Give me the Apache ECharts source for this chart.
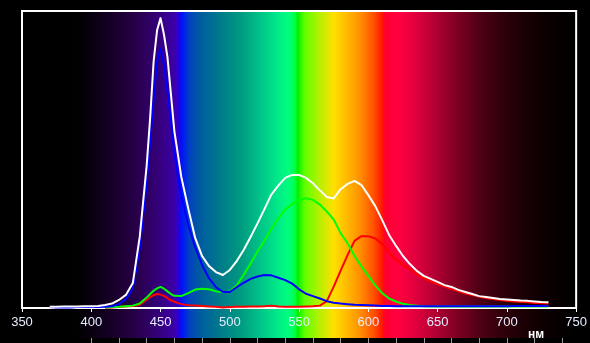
<!DOCTYPE html>
<html>
<head>
<meta charset="utf-8">
<style>
  html, body { margin: 0; padding: 0; background: #000; }
  #chart { width: 590px; height: 343px; }
</style>
<script src="https://cdn.jsdelivr.net/npm/echarts@6/dist/echarts.min.js"></script>
</head>
<body>
<div id="chart"></div>
<script>
// Wavelengths (nm)
const wavelengths = [370,375,380,385,390,395,400,405,410,415,420,425,430,435,440,442.5,445,447.5,450,452.5,455,457.5,460,465,470,475,480,485,490,495,500,505,510,515,520,525,530,535,540,545,550,555,560,565,570,575,580,585,590,595,600,605,610,615,620,625,630,635,640,645,650,655,660,665,670,675,680,685,690,695,700,705,710,715,720,725,730];
// wavelengths for green and red channels (start at 410 nm)
const wavelengthsRG = wavelengths.slice(8);

const whiteValues = [0.4,0.4,0.5,0.5,0.5,0.6,0.6,0.7,1.0,1.5,2.7,4.4,8.4,24,48,64,83,93.5,97.6,92,84.5,72,59.5,44.1,33.5,23.6,17.5,14.1,12.1,11.1,12.8,15.8,19.5,23.9,28.5,33.3,38.2,41.2,43.8,44.8,44.8,43.8,42.0,39.6,37.4,36.9,40.0,41.8,42.8,41.4,38.0,34.3,29.6,24.6,20.9,17.5,14.8,12.5,10.8,9.8,8.8,7.7,7.1,6.1,5.4,4.7,4.0,3.7,3.4,3.0,2.9,2.7,2.5,2.4,2.2,2.0,1.9];
const blueValues = [0.3,0.2,0.2,0.2,0.3,0.3,0.3,0.3,0.4,0.6,1.3,3.0,6.5,20,42,56,70,83,87.4,82,73,63,52,38,28,20.5,14.5,10,7,5.4,5.4,7,8.5,9.8,10.6,11.1,11,10.2,9.4,8.2,6.3,4.8,4,3.2,2.3,1.8,1.5,1.3,1.1,1.0,0.9,0.8,0.7,0.7,0.6,0.6,0.6,0.6,0.6,0.6,0.6,0.6,0.6,0.6,0.6,0.6,0.6,0.6,0.6,0.6,0.6,0.7,0.7,0.7,0.7,0.7,0.7];
const greenValues = [0.2,0.3,0.4,0.6,0.8,1.5,3.5,4.7,5.8,6.6,7.1,6.5,5.6,4.7,4.1,4.0,5.0,6.2,6.5,6.3,5.6,5.3,5.6,7.6,11.2,15,19,22.7,26.6,30.2,33.2,35,36.2,37,36.4,34.8,32.5,29.8,25.2,21.8,17.5,14,10.8,7.6,5,3.2,2.2,1.4,1.0,0.8,0.6,0.5,0.5,0.5,0.5,0.5,0.5,0.5,0.5,0.5,0.5,0.5,0.5,0.5,0.5,0.5,0.5,0.5,0.5];
const redValues = [0.1,0.2,0.3,0.5,0.7,1.1,2.8,3.7,4.3,4.7,4.5,4.1,3.3,2.6,2.1,1.3,0.9,0.8,0.7,0.5,0.4,0.2,0.3,0.4,0.4,0.5,0.5,0.6,0.8,0.5,0.4,0.4,0.4,0.5,0.6,0.8,2.3,7.2,12.6,17.8,22.6,24.2,24.2,23.4,21.5,18.6,16.3,14.6,13.1,11.4,10.1,9.0,8.0,7.2,6.4,5.6,4.9,4.4,3.8,3.4,3.0,2.7,2.4,2.2,2.0,1.9,1.7,1.6,1.5];

const axisLabels = [350,400,450,500,550,600,650,700,750];
const scaleTicks = [400,420,440,460,480,500,520,540,560,580,600,620,640,660,680,700,720,740];
const unitLabel = 'нм';

// spectrum background colour stops (nm, colour)
const spectrumStops = [
  [350,'#000000'],[385,'#000000'],[395,'#050008'],[405,'#0d0018'],[420,'#1c0030'],
  [435,'#2a0050'],[449,'#35007c'],[460,'#3c00a8'],[463,'#2a00d8'],[465,'#0010ff'],
  [471,'#0042c0'],[478,'#005aa0'],[493,'#007a8a'],[507,'#009880'],[521,'#00c088'],
  [536,'#00ee88'],[543,'#00ff78'],[547,'#00ff48'],[549,'#00f000'],[554,'#60ff00'],
  [565,'#b8f000'],[575,'#ffe000'],[583,'#ffc000'],[594,'#ff9000'],[604,'#ff5000'],
  [610,'#ff1800'],[612,'#ff0030'],[622,'#ff0040'],[637,'#d8003c'],[651,'#a80030'],
  [666,'#780020'],[680,'#500015'],[695,'#32000b'],[709,'#1e0005'],[723,'#100002'],
  [738,'#060000'],[750,'#000000']
];

const pairs = (xs, ys) => xs.map((x, i) => [x, ys[i]]);

const chart = echarts.init(document.getElementById('chart'));
const lineSeries = (name, xs, ys, color) => ({
  name, type: 'line', xAxisIndex: 0, yAxisIndex: 0,
  data: pairs(xs, ys), showSymbol: false, smooth: false,
  lineStyle: { color, width: 2, join: 'round' }, itemStyle: { color }
});

chart.setOption({
  backgroundColor: '#000',
  animation: false,
  grid: { left: 22, right: 13, top: 11, bottom: 35, show: true, borderColor: '#fff', borderWidth: 2, backgroundColor: 'transparent' },
  xAxis: [{
    type: 'value', min: 350, max: 750, interval: 50, position: 'bottom',
    axisLine: { show: true, lineStyle: { color: '#fff', width: 2 } },
    axisTick: { show: true, length: 4, lineStyle: { color: '#fff', width: 1 } },
    axisLabel: { color: '#e6ecff', fontSize: 13, fontFamily: 'Liberation Sans, Arial, sans-serif', margin: 8, customValues: axisLabels },
    splitLine: { show: false }
  }, {
    type: 'value', min: 350, max: 750, position: 'bottom', offset: 30,
    axisLine: { show: false },
    axisTick: { show: true, length: 5, customValues: scaleTicks, lineStyle: { color: '#9a9a9a', width: 1 } },
    axisLabel: { show: false },
    splitLine: { show: false }
  }],
  yAxis: { type: 'value', min: 0, max: 100, show: false, splitLine: { show: false } },
  series: [
    lineSeries('R', wavelengthsRG, redValues, '#ff0000'),
    lineSeries('G', wavelengthsRG, greenValues, '#00ff00'),
    lineSeries('B', wavelengths, blueValues, '#0000ff'),
    lineSeries('W', wavelengths, whiteValues, '#ffffff')
  ]
});

// spectrum band behind the plot and the lower strip
const x0 = chart.convertToPixel({ xAxisIndex: 0 }, 350);
const x1 = chart.convertToPixel({ xAxisIndex: 0 }, 750);
const yTop = chart.convertToPixel({ yAxisIndex: 0 }, 100);
const yBase = chart.convertToPixel({ yAxisIndex: 0 }, 0);
const yBottom = yBase + 30;
const unitX = chart.convertToPixel({ xAxisIndex: 0 }, 721);

chart.setOption({
  graphic: [{
    type: 'rect', z: -10, silent: true,
    shape: { x: x0, y: yTop, width: x1 - x0, height: yBottom - yTop },
    style: {
      fill: new echarts.graphic.LinearGradient(0, 0, 1, 0,
        spectrumStops.map(([nm, c]) => ({ offset: (nm - 350) / 400, color: c })))
    }
  }, {
    type: 'text', z: 10, silent: true,
    x: unitX, y: yBase + 27,
    style: { text: unitLabel, fill: '#ffffff', font: 'bold 12px Liberation Sans, Arial, sans-serif', align: 'center', verticalAlign: 'middle' }
  }]
});
</script>
</body>
</html>
